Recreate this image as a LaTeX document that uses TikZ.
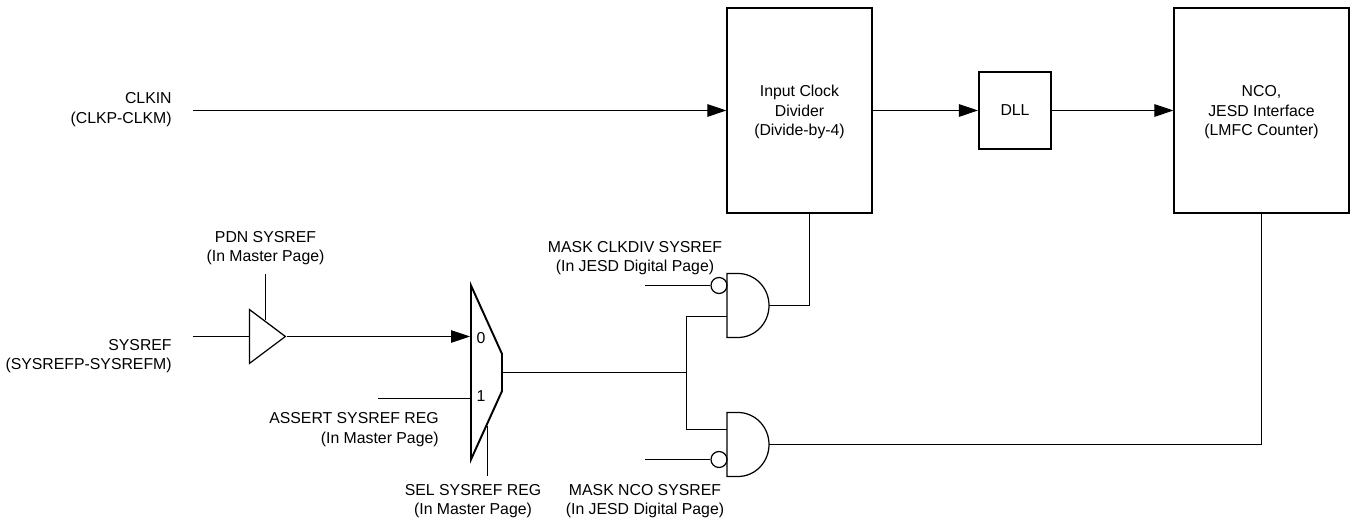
\documentclass[tikz,border=0pt]{standalone}
\usepackage{fontspec}
\setmainfont{Liberation Sans}
\usepackage{tikz}
\usetikzlibrary{positioning, arrows.meta, shapes.geometric, calc}

\begin{document}
\begin{tikzpicture}[
    sig_text/.style = {font=\fontsize{9}{11.2}\selectfont, align=center, inner sep=0pt},
    sig_text_r/.style = {sig_text, anchor=east, align=right},
    block_box/.style = {sig_text, draw, rectangle, line width=0.9pt, text depth=0pt},
    sig_line/.style = {line width=0.55pt},
    sig_arrow/.style = {sig_line, -{Triangle[length=0.38cm, width=0.25cm]}},
    not_dot/.style = {draw, circle, line width=0.7pt, minimum size=0.32cm, inner sep=0pt},
    and_body/.pic = {
        \draw[line width=0.7pt] (0,0.64) -- (0.22,0.64) arc (90:-90:0.62 and 0.64) -- (0,-0.64) -- cycle;
        \coordinate (-out) at (0.84,0);
    }
]
\useasboundingbox (0,0) rectangle (27.02,10.4);

% --- Top row: clock path ---
\node[sig_text_r] (clkin_label) at (3.44, 8.21) {CLKIN\\(CLKP-CLKM)};
\coordinate (clkin_start) at (3.86, 8.19);
\node[block_box, minimum height=4.11cm, minimum width=2.89cm] (clk_div) at (15.99, 8.19) {Input Clock\\Divider\\(Divide-by-4)};
\node[block_box, minimum height=1.54cm, minimum width=1.45cm] (dll) at (20.3, 8.19) {DLL};
\node[block_box, minimum height=4.11cm, minimum width=3.49cm] (nco) at (25.23, 8.19) {NCO,\\JESD Interface\\(LMFC Counter)};

\draw[sig_arrow] (clkin_start) -- (clk_div.west);
\draw[sig_arrow] (clk_div.east) -- (dll.west);
\draw[sig_arrow] (dll.east) -- (nco.west);

% --- SYSREF input and buffer ---
\node[sig_text_r] (sysref_label) at (3.44, 3.28) {SYSREF\\(SYSREFP-SYSREFM)};
\coordinate (sysref_start) at (3.86, 3.67);
\node[draw, isosceles triangle, isosceles triangle stretches, line width=0.7pt, minimum width=1.08cm, minimum height=0.72cm, inner sep=0pt, anchor=apex] (buf) at (5.74, 3.67) {};
\node[sig_text] (pdn_label) at (5.31, 5.44) {PDN SYSREF\\(In Master Page)};
\coordinate (pdn_start) at (5.31, 4.92);

\draw[sig_line] (sysref_start) -- (sysref_start -| buf.left corner);
\draw[sig_line] (pdn_start) -- (pdn_start |- {$(buf.left corner)!0.43!(buf.apex)$});

% --- Mux ---
\node[draw, trapezium, trapezium angle=28.5, trapezium stretches=true, rotate=-90, line width=1.1pt, minimum width=3.48cm, minimum height=0.62cm, inner sep=1pt] (mux) at (9.73, 2.95) {};
\node[sig_text] (mux_0) at (9.62, 3.64) {0};
\node[sig_text] (mux_1) at (9.62, 2.48) {1};
\coordinate (assert_start) at (7.56, 2.43);
\coordinate (sel_end) at (9.75, 0.88);
\node[sig_text_r] (assert_label) at (8.78, 1.81) {ASSERT SYSREF REG\\(In Master Page)};
\node[sig_text] (sel_label) at (9.46, 0.38) {SEL SYSREF REG\\(In Master Page)};

\draw[sig_arrow] (buf.apex) -- (buf.apex -| mux.south);
\draw[sig_line] (assert_start) -- (assert_start -| mux.south);
\draw[sig_line] (sel_end) -- (sel_end |- {$(mux.bottom right corner)!0.52!(mux.top right corner)$});

% --- AND gates ---
\pic (and_div) at (14.54, 4.29) {and_body};
\pic (and_nco) at (14.54, 1.51) {and_body};
\node[not_dot] (dot_div) at (14.38, 4.69) {};
\node[not_dot] (dot_nco) at (14.38, 1.21) {};
\coordinate (mask_div_start) at (12.9, 4.69);
\coordinate (mask_nco_start) at (12.9, 1.21);
\coordinate (split) at (13.73, 2.95);
\coordinate (in_div) at (14.54, 4.07);
\coordinate (in_nco) at (14.54, 1.81);
\node[sig_text] (mask_div_label) at (12.7, 5.24) {MASK CLKDIV SYSREF\\(In JESD Digital Page)};
\node[sig_text] (mask_nco_label) at (12.9, 0.38) {MASK NCO SYSREF\\(In JESD Digital Page)};

\draw[sig_line] (mask_div_start) -- (dot_div.west);
\draw[sig_line] (mask_nco_start) -- (dot_nco.west);
\draw[sig_line] (mux.north) -- (split);
\draw[sig_line] (split) |- (in_div);
\draw[sig_line] (split) |- (in_nco);

% --- Gate outputs back up to the blocks ---
\draw[sig_line] (and_div-out) -| ([xshift=0.2cm]clk_div.south);
\draw[sig_line] (and_nco-out) -| (nco.south);

\end{tikzpicture}
\end{document}
